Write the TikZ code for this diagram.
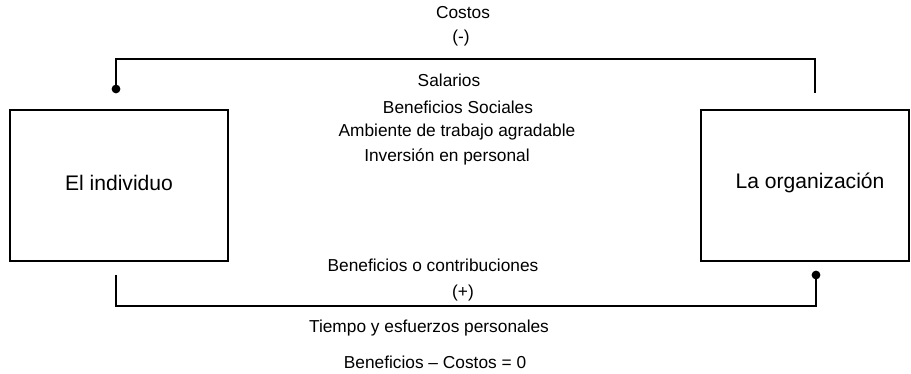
\documentclass[tikz,border=0pt]{standalone}
\usepackage{fontspec}
\setmainfont{Liberation Sans}
\usetikzlibrary{positioning}
\newcommand{\dotsz}{5pt}
\newcommand{\linew}{1.2pt}

\begin{document}
\begin{tikzpicture}[x=0.02cm,y=-0.02cm,
            party/.style={draw, line width=1.4pt, minimum height=3.02cm, inner sep=0pt},
            partylabel/.style={inner sep=0pt, font=\fontsize{12}{14}\selectfont},
            txt/.style={inner sep=0pt, font=\fontsize{9.85}{12}\selectfont},
            link/.style={line width=\linew},
            enddot/.style={circle, fill=black, inner sep=0pt, minimum size=\dotsz}]
            \useasboundingbox (0,0) rectangle (911,374);
            % the two parties
            \node[party, minimum width=4.36cm] (ind) at (119,185.5) {};
            \node[party, minimum width=4.16cm] (org) at (805,185.5) {};
            \node[partylabel] (indname) at (119,183) {El individuo};
            \node[partylabel] (orgname) at (810,183) {La organizaci\'on};

            % costs loop
            \node[enddot] (ltop) at (116,89) {};
            \coordinate (rtop) at (815,93);
            \coordinate (ctop) at (815,59);
            \draw[link] (ltop.center) |- (ctop) -- (rtop);
            \node[txt] (costos) at (463,13) {Costos};
            \node[txt] (menos) at (461,38) {(-)};
            \node[txt] (sal) at (449,80) {Salarios};
            \node[txt] (bsoc) at (458,107) {Beneficios Sociales};
            \node[txt] (amb) at (457,132) {Ambiente de trabajo agradable};
            \node[txt] (inv) at (447,157) {Inversi\'on en personal};

            % benefits loop
            \coordinate (lbot) at (116,275);
            \coordinate (cbot) at (816,306);
            \node[enddot] (rbot) at (816,275) {};
            \draw[link] (lbot) |- (cbot) -- (rbot.center);
            \node[txt] (bcon) at (433,265) {Beneficios o contribuciones};
            \node[txt] (mas) at (463,293) {(+)};
            \node[txt] (tiempo) at (429,328) {Tiempo y esfuerzos personales};
            \node[txt] (balance) at (435,362) {Beneficios -- Costos = 0};
\end{tikzpicture}
\end{document}
